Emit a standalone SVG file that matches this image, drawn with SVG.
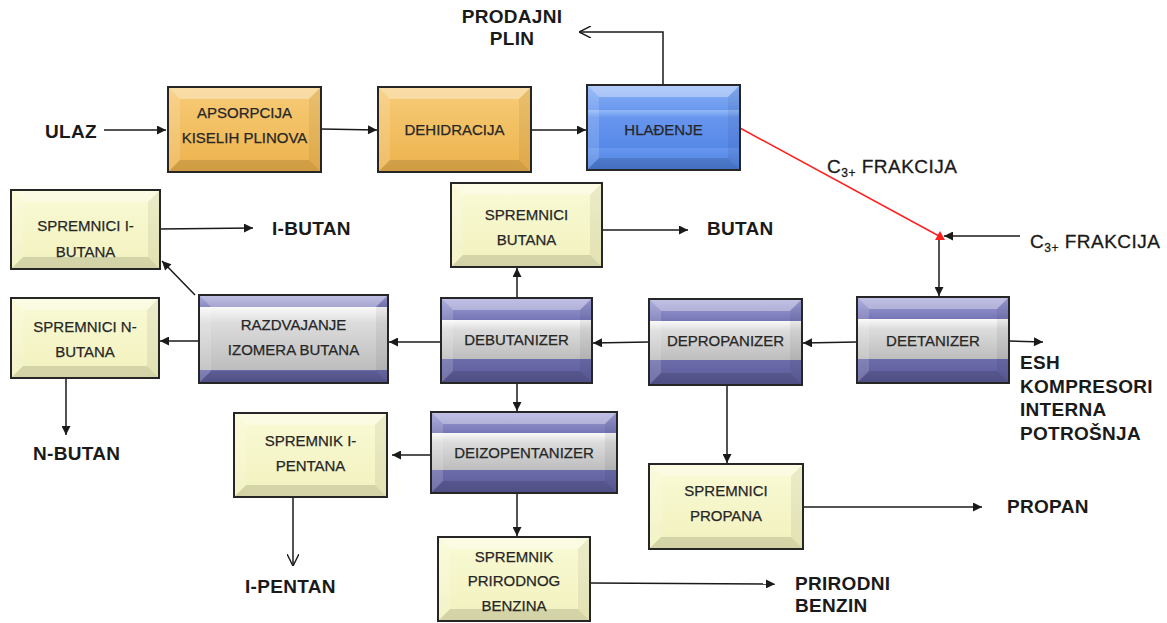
<svg xmlns="http://www.w3.org/2000/svg" width="1167" height="623" viewBox="0 0 1167 623">
<style>
.bx{stroke:#262626;stroke-width:2}
.bt{fill:#fff;fill-opacity:.35}
.bl{fill:#fff;fill-opacity:.15}
.br{fill:#000;fill-opacity:.06}
.bb{fill:#000;fill-opacity:.12}
.t{font-family:"Liberation Sans",Arial,sans-serif;font-size:15px;fill:#262626;stroke:#262626;stroke-width:.25;text-anchor:middle}
.lb{font-family:"Liberation Sans",Arial,sans-serif;font-size:19px;font-weight:bold;fill:#1a1a1a;letter-spacing:.3px}
.ln{font-family:"Liberation Sans",Arial,sans-serif;font-size:19px;fill:#1a1a1a;stroke:#1a1a1a;stroke-width:.3;letter-spacing:.5px}
.c{stroke:#1a1a1a;stroke-width:1.5;fill:none;marker-end:url(#ah)}
.co{stroke:#1a1a1a;stroke-width:1.5;fill:none;marker-end:url(#ao)}
</style>
<defs>
<marker id="ah" viewBox="0 0 10 10" refX="10" refY="5" markerUnits="userSpaceOnUse" markerWidth="10" markerHeight="9" orient="auto"><path d="M0,0 L10,5 L0,10 z" fill="#1a1a1a"/></marker>
<marker id="ao" viewBox="0 0 10 10" refX="10" refY="5" markerUnits="userSpaceOnUse" markerWidth="12" markerHeight="12" orient="auto"><path d="M0,0 L10,5 L0,10" fill="none" stroke="#1a1a1a" stroke-width="1.2"/></marker>
<linearGradient id="gOr" x1="0" y1="0" x2="0" y2="1"><stop offset="0" stop-color="#F7CC78"/><stop offset="1" stop-color="#EDB24C"/></linearGradient>
<linearGradient id="gYe" x1="0" y1="0" x2="0" y2="1"><stop offset="0" stop-color="#FAFAD6"/><stop offset="1" stop-color="#F1F1BE"/></linearGradient>
<linearGradient id="gPt" x1="0" y1="0" x2="0" y2="1"><stop offset="0" stop-color="#A0A0D8"/><stop offset="1" stop-color="#7676B6"/></linearGradient>
<linearGradient id="gPb" x1="0" y1="0" x2="0" y2="1"><stop offset="0" stop-color="#6C6CAA"/><stop offset="1" stop-color="#5A5A98"/></linearGradient>
<linearGradient id="gGr" x1="0" y1="0" x2="0" y2="1"><stop offset="0" stop-color="#FAFAFA"/><stop offset=".25" stop-color="#DCDCDC"/><stop offset="1" stop-color="#BDBDBD"/></linearGradient>
<linearGradient id="gBt" x1="0" y1="0" x2="0" y2="1"><stop offset="0" stop-color="#8AB2F6"/><stop offset="1" stop-color="#6A98EE"/></linearGradient>
<linearGradient id="gBm" x1="0" y1="0" x2="0" y2="1"><stop offset="0" stop-color="#92BAF8"/><stop offset=".2" stop-color="#6896EE"/><stop offset="1" stop-color="#5688E8"/></linearGradient>
<linearGradient id="gBb" x1="0" y1="0" x2="0" y2="1"><stop offset="0" stop-color="#6696EE"/><stop offset="1" stop-color="#4C7EDC"/></linearGradient>
</defs>
<rect width="1167" height="623" fill="#fff"/>

<g id="connectors">
<line class="c" x1="104" y1="130" x2="166" y2="130"/>
<line class="c" x1="321" y1="129" x2="377" y2="130"/>
<line class="c" x1="531" y1="130" x2="586" y2="130"/>
<polyline class="co" points="663,85 663,32 579,32"/>
<line x1="740" y1="128" x2="939" y2="236" stroke="#FF2020" stroke-width="1.5"/>
<polygon points="940,231 945,240 935,240" fill="#FF2020"/>
<line class="c" x1="1020" y1="236" x2="944" y2="236"/>
<line class="c" x1="939" y1="240" x2="939" y2="296"/>
<line class="c" x1="1009" y1="341" x2="1043" y2="342"/>
<line class="c" x1="857" y1="342" x2="803" y2="343"/>
<line class="c" x1="727" y1="385" x2="727" y2="463"/>
<line class="c" x1="803" y1="507" x2="982" y2="507"/>
<line class="c" x1="649" y1="342" x2="593" y2="343"/>
<line class="c" x1="517" y1="298" x2="517" y2="268"/>
<line class="c" x1="602" y1="230" x2="688" y2="230"/>
<line class="c" x1="441" y1="342" x2="389" y2="342"/>
<line class="c" x1="195" y1="295" x2="162" y2="261"/>
<line class="c" x1="160" y1="229" x2="253" y2="228"/>
<line class="c" x1="199" y1="341" x2="160" y2="341"/>
<line class="c" x1="66" y1="378" x2="66" y2="435"/>
<line class="c" x1="517" y1="383" x2="517" y2="411"/>
<line class="c" x1="431" y1="455" x2="392" y2="455"/>
<line class="co" x1="293" y1="497" x2="293" y2="566"/>
<line class="c" x1="517" y1="493" x2="517" y2="536"/>
<line class="c" x1="590" y1="583" x2="775" y2="584"/>
</g>

<g id="n-apsorpcija">
<rect x="168" y="87" width="153" height="85" fill="url(#gOr)"/>
<polygon class="bt" points="168,87 321,87 309,99 180,99"/><polygon class="bl" points="168,87 180,99 180,160 168,172"/><polygon class="br" points="321,87 309,99 309,160 321,172"/><polygon class="bb" points="168,172 321,172 309,160 180,160"/>
<rect class="bx" x="168" y="87" width="153" height="85" fill="none"/>
<text class="t" x="244.5" y="118">APSORPCIJA</text><text class="t" x="244.5" y="143">KISELIH PLINOVA</text>
</g>
<g id="n-dehidracija">
<rect x="378" y="87" width="153" height="85" fill="url(#gOr)"/>
<polygon class="bt" points="378,87 531,87 519,99 390,99"/><polygon class="bl" points="378,87 390,99 390,160 378,172"/><polygon class="br" points="531,87 519,99 519,160 531,172"/><polygon class="bb" points="378,172 531,172 519,160 390,160"/>
<rect class="bx" x="378" y="87" width="153" height="85" fill="none"/>
<text class="t" x="454.5" y="135">DEHIDRACIJA</text>
</g>
<g id="n-hladjenje">
<rect x="587" y="85" width="153" height="25" fill="url(#gBt)"/>
<rect x="587" y="110" width="153" height="38" fill="url(#gBm)"/>
<rect x="587" y="148" width="153" height="22" fill="url(#gBb)"/>
<polygon class="bt" points="587,85 740,85 728,97 599,97"/><polygon class="bl" points="587,85 599,97 599,158 587,170"/><polygon class="br" points="740,85 728,97 728,158 740,170"/><polygon class="bb" points="587,170 740,170 728,158 599,158"/>
<rect class="bx" x="587" y="85" width="153" height="85" fill="none"/>
<text class="t" x="663.5" y="135">HLAĐENJE</text>
</g>
<g id="n-spremnici-i-butana">
<rect x="11" y="190" width="149" height="79" fill="url(#gYe)"/>
<polygon class="bt" points="11,190 160,190 148,202 23,202"/><polygon class="bl" points="11,190 23,202 23,257 11,269"/><polygon class="br" points="160,190 148,202 148,257 160,269"/><polygon class="bb" points="11,269 160,269 148,257 23,257"/>
<rect class="bx" x="11" y="190" width="149" height="79" fill="none"/>
<text class="t" x="85.5" y="231">SPREMNICI I-</text><text class="t" x="85.5" y="257">BUTANA</text>
</g>
<g id="n-spremnici-butana">
<rect x="451" y="183" width="151" height="84" fill="url(#gYe)"/>
<polygon class="bt" points="451,183 602,183 590,195 463,195"/><polygon class="bl" points="451,183 463,195 463,255 451,267"/><polygon class="br" points="602,183 590,195 590,255 602,267"/><polygon class="bb" points="451,267 602,267 590,255 463,255"/>
<rect class="bx" x="451" y="183" width="151" height="84" fill="none"/>
<text class="t" x="526.5" y="220">SPREMNICI</text><text class="t" x="526.5" y="245">BUTANA</text>
</g>
<g id="n-spremnici-n-butana">
<rect x="11" y="298" width="148" height="80" fill="url(#gYe)"/>
<polygon class="bt" points="11,298 159,298 147,310 23,310"/><polygon class="bl" points="11,298 23,310 23,366 11,378"/><polygon class="br" points="159,298 147,310 147,366 159,378"/><polygon class="bb" points="11,378 159,378 147,366 23,366"/>
<rect class="bx" x="11" y="298" width="148" height="80" fill="none"/>
<text class="t" x="85" y="332">SPREMNICI N-</text><text class="t" x="85" y="357">BUTANA</text>
</g>
<g id="n-razdvajanje">
<rect x="199" y="295" width="189" height="12" fill="url(#gPt)"/>
<rect x="199" y="307" width="189" height="63" fill="url(#gGr)"/>
<rect x="199" y="370" width="189" height="13" fill="url(#gPb)"/>
<polygon class="bt" points="199,295 388,295 376,307 211,307"/><polygon class="bl" points="199,295 211,307 211,371 199,383"/><polygon class="br" points="388,295 376,307 376,371 388,383"/><polygon class="bb" points="199,383 388,383 376,371 211,371"/>
<rect class="bx" x="199" y="295" width="189" height="88" fill="none"/>
<text class="t" x="293.5" y="330">RAZDVAJANJE</text><text class="t" x="293.5" y="355">IZOMERA BUTANA</text>
</g>
<g id="n-debutanizer">
<rect x="441" y="298" width="151" height="22" fill="url(#gPt)"/>
<rect x="441" y="320" width="151" height="39" fill="url(#gGr)"/>
<rect x="441" y="359" width="151" height="24" fill="url(#gPb)"/>
<polygon class="bt" points="441,298 592,298 580,310 453,310"/><polygon class="bl" points="441,298 453,310 453,371 441,383"/><polygon class="br" points="592,298 580,310 580,371 592,383"/><polygon class="bb" points="441,383 592,383 580,371 453,371"/>
<rect class="bx" x="441" y="298" width="151" height="85" fill="none"/>
<text class="t" x="516.5" y="345">DEBUTANIZER</text>
</g>
<g id="n-depropanizer">
<rect x="649" y="299" width="153" height="22" fill="url(#gPt)"/>
<rect x="649" y="321" width="153" height="39" fill="url(#gGr)"/>
<rect x="649" y="360" width="153" height="25" fill="url(#gPb)"/>
<polygon class="bt" points="649,299 802,299 790,311 661,311"/><polygon class="bl" points="649,299 661,311 661,373 649,385"/><polygon class="br" points="802,299 790,311 790,373 802,385"/><polygon class="bb" points="649,385 802,385 790,373 661,373"/>
<rect class="bx" x="649" y="299" width="153" height="86" fill="none"/>
<text class="t" x="725.5" y="346">DEPROPANIZER</text>
</g>
<g id="n-deetanizer">
<rect x="857" y="297" width="152" height="22" fill="url(#gPt)"/>
<rect x="857" y="319" width="152" height="40" fill="url(#gGr)"/>
<rect x="857" y="359" width="152" height="24" fill="url(#gPb)"/>
<polygon class="bt" points="857,297 1009,297 997,309 869,309"/><polygon class="bl" points="857,297 869,309 869,371 857,383"/><polygon class="br" points="1009,297 997,309 997,371 1009,383"/><polygon class="bb" points="857,383 1009,383 997,371 869,371"/>
<rect class="bx" x="857" y="297" width="152" height="86" fill="none"/>
<text class="t" x="933" y="346">DEETANIZER</text>
</g>
<g id="n-spremnik-i-pentana">
<rect x="234" y="413" width="153" height="84" fill="url(#gYe)"/>
<polygon class="bt" points="234,413 387,413 375,425 246,425"/><polygon class="bl" points="234,413 246,425 246,485 234,497"/><polygon class="br" points="387,413 375,425 375,485 387,497"/><polygon class="bb" points="234,497 387,497 375,485 246,485"/>
<rect class="bx" x="234" y="413" width="153" height="84" fill="none"/>
<text class="t" x="310.5" y="446">SPREMNIK I-</text><text class="t" x="310.5" y="471">PENTANA</text>
</g>
<g id="n-deizopentanizer">
<rect x="431" y="412" width="186" height="21" fill="url(#gPt)"/>
<rect x="431" y="433" width="186" height="37" fill="url(#gGr)"/>
<rect x="431" y="470" width="186" height="23" fill="url(#gPb)"/>
<polygon class="bt" points="431,412 617,412 605,424 443,424"/><polygon class="bl" points="431,412 443,424 443,481 431,493"/><polygon class="br" points="617,412 605,424 605,481 617,493"/><polygon class="bb" points="431,493 617,493 605,481 443,481"/>
<rect class="bx" x="431" y="412" width="186" height="81" fill="none"/>
<text class="t" x="524" y="458">DEIZOPENTANIZER</text>
</g>
<g id="n-spremnici-propana">
<rect x="649" y="464" width="154" height="85" fill="url(#gYe)"/>
<polygon class="bt" points="649,464 803,464 791,476 661,476"/><polygon class="bl" points="649,464 661,476 661,537 649,549"/><polygon class="br" points="803,464 791,476 791,537 803,549"/><polygon class="bb" points="649,549 803,549 791,537 661,537"/>
<rect class="bx" x="649" y="464" width="154" height="85" fill="none"/>
<text class="t" x="726" y="496">SPREMNICI</text><text class="t" x="726" y="521">PROPANA</text>
</g>
<g id="n-spremnik-prirodnog-benzina">
<rect x="438" y="537" width="152" height="84" fill="url(#gYe)"/>
<polygon class="bt" points="438,537 590,537 578,549 450,549"/><polygon class="bl" points="438,537 450,549 450,609 438,621"/><polygon class="br" points="590,537 578,549 578,609 590,621"/><polygon class="bb" points="438,621 590,621 578,609 450,609"/>
<rect class="bx" x="438" y="537" width="152" height="84" fill="none"/>
<text class="t" x="514" y="562">SPREMNIK</text><text class="t" x="514" y="586">PRIRODNOG</text><text class="t" x="514" y="611">BENZINA</text>
</g>

<g id="labels">
<text class="lb" x="45" y="138" font-size="23">ULAZ</text>
<text class="lb" x="512" y="23" text-anchor="middle">PRODAJNI</text>
<text class="lb" x="512" y="45" text-anchor="middle">PLIN</text>
<text class="ln" x="827" y="173">C<tspan font-size="12" dy="4">3+</tspan><tspan dy="-4"> FRAKCIJA</tspan></text>
<text class="ln" x="1030" y="248">C<tspan font-size="12" dy="4">3+</tspan><tspan dy="-4"> FRAKCIJA</tspan></text>
<text class="lb" x="272" y="235">I-BUTAN</text>
<text class="lb" x="707" y="235">BUTAN</text>
<text class="lb" x="1020" y="369" font-size="17" letter-spacing="1">ESH</text>
<text class="lb" x="1020" y="393" font-size="17" letter-spacing="1">KOMPRESORI</text>
<text class="lb" x="1020" y="416" font-size="17" letter-spacing="1">INTERNA</text>
<text class="lb" x="1020" y="440" font-size="17" letter-spacing="1">POTROŠNJA</text>
<text class="lb" x="33" y="460">N-BUTAN</text>
<text class="lb" x="1007" y="513">PROPAN</text>
<text class="lb" x="245" y="593">I-PENTAN</text>
<text class="lb" x="795" y="590">PRIRODNI</text>
<text class="lb" x="795" y="612">BENZIN</text>
</g>
</svg>
